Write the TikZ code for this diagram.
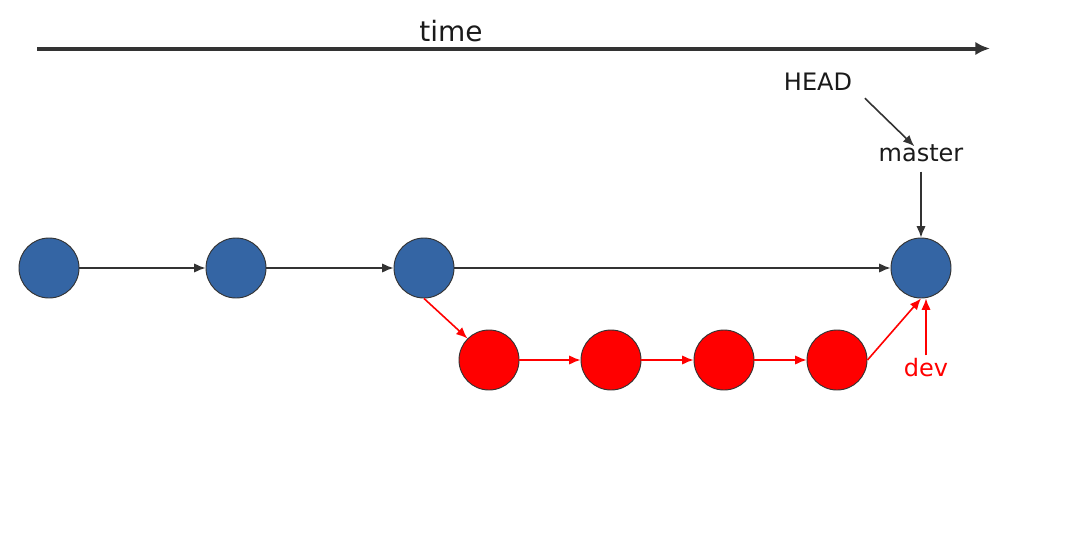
\documentclass[tikz,border=0pt]{standalone}
\usepackage{fontspec}
\setmainfont{DejaVu Sans}
\usetikzlibrary{positioning, arrows.meta}
\definecolor{commitblue}{RGB}{52,101,164}
\definecolor{linegray}{RGB}{51,51,51}
\definecolor{textgray}{RGB}{26,26,26}
\begin{document}
\begin{tikzpicture}[x=0.75pt, y=-0.75pt, >={Latex[length=8.5pt, width=7pt]}, line width=1.2pt]
	\tikzstyle{commit} = [circle, draw=linegray, line width=0.7pt, fill=commitblue, minimum size=45pt, inner sep=0pt]
	\tikzstyle{devcommit} = [commit, fill=red]
	\tikzstyle{lbl} = [font=\fontsize{18}{20}\selectfont, text=textgray, inner sep=2pt]
	\useasboundingbox (0,0) rectangle (1092,532);
	% time axis
	\coordinate (t0) at (37,48.5);
	\coordinate (t1) at (990,48.5);
	\draw[-{Latex[length=11pt, width=10pt]}, line width=3pt, linegray] (t0) -- (t1);
	\node (time) [lbl, font=\fontsize{21}{24}\selectfont] at (451,31) {time};
	% master line
	\node (c1) [commit] at (49,268) {};
	\node (c2) [commit] at (236,268) {};
	\node (c3) [commit] at (424,268) {};
	\node (c4) [commit] at (921,268) {};
	\foreach \a/\b in {c1/c2, c2/c3, c3/c4}
	\draw[->, linegray] (\a) -- (\b);
	% dev line
	\node (d1) [devcommit] at (489,360) {};
	\node (d2) [devcommit] at (611,360) {};
	\node (d3) [devcommit] at (724,360) {};
	\node (d4) [devcommit] at (837,360) {};
	\draw[->, red] (c3.south) -- (d1.north west);
	\foreach \a/\b in {d1/d2, d2/d3, d3/d4}
	\draw[->, red] (\a) -- (\b);
	\draw[->, red] (d4.east) -- (c4.south);
	% pointers
	\node (HEAD) [lbl] at (818,82) {HEAD};
	\node (master) [lbl] at (921,153) {master};
	\node (dev) [lbl, text=red] at (926,368) {dev};
	\draw[->, linegray] ([xshift=7pt, yshift=-3pt]HEAD.south east) -- ([xshift=-5pt, yshift=-4pt]master.north);
	\draw[->, linegray] ([yshift=-5pt]master.south) -- (c4.north);
	\draw[->, red] (dev.north) -- (dev.north |- c4.south);
\end{tikzpicture}
\end{document}
